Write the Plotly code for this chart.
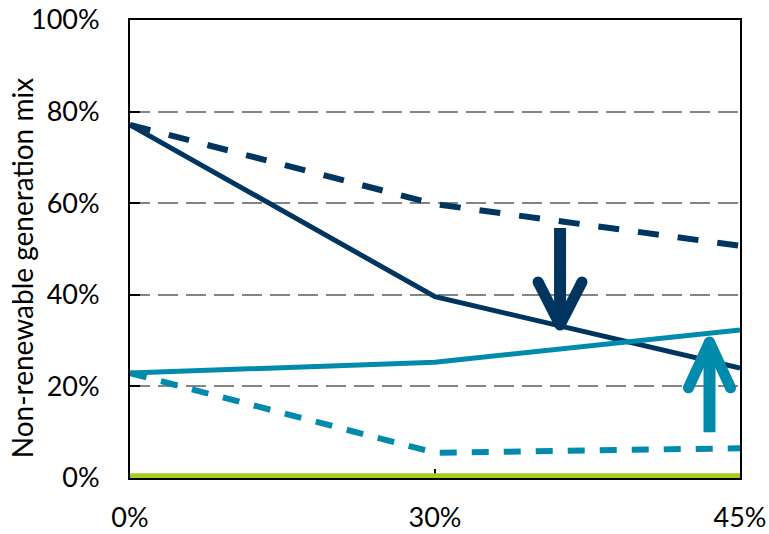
import plotly.graph_objects as go

categories = ["0%", "30%", "45%"]
navy_solid = [77.1, 39.6, 24.0]
navy_dashed = [77.1, 59.8, 50.7]
teal_solid = [22.9, 25.3, 32.3]
teal_dashed = [22.9, 5.5, 6.5]
green_base = [0.4, 0.4, 0.4]
y_ticks = [0, 20, 40, 60, 80, 100]
y_tick_labels = ["0%", "20%", "40%", "60%", "80%", "100%"]
y_title = "Non-renewable generation mix"

NAVY = "#00355F"
TEAL = "#008BAD"
GREEN = "#A4CD1D"
FONT = "Lato"

fig = go.Figure()
fig.add_trace(go.Scatter(x=categories, y=navy_dashed, mode="lines",
                         line=dict(color=NAVY, width=6, dash="21px,19px")))
fig.add_trace(go.Scatter(x=categories, y=teal_dashed, mode="lines",
                         line=dict(color=TEAL, width=6, dash="17px,15px")))
fig.add_trace(go.Scatter(x=categories, y=navy_solid, mode="lines",
                         line=dict(color=NAVY, width=5)))
fig.add_trace(go.Scatter(x=categories, y=teal_solid, mode="lines",
                         line=dict(color=TEAL, width=5)))
fig.add_trace(go.Scatter(x=categories, y=green_base, mode="lines",
                         line=dict(color=GREEN, width=6)))

# annotation arrows (category-index x, percent y)
arrows = [
    dict(x=1.41, y_from=54.6, y_to=33.4, dx=0.072, arm_y=42.8, color=NAVY),
    dict(x=1.90, y_from=10.0, y_to=29.7, dx=0.069, arm_y=19.7, color=TEAL),
]
W = 11
for a in arrows:
    fig.add_shape(type="line", xref="x", yref="y", x0=a["x"], x1=a["x"],
                  y0=a["y_from"], y1=a["y_to"], line=dict(color=a["color"], width=12))
    for s in (-1, 1):
        fig.add_shape(type="line", xref="x", yref="y", x0=a["x"] + s * a["dx"], x1=a["x"],
                      y0=a["arm_y"], y1=a["y_to"], line=dict(color=a["color"], width=W))
        fig.add_shape(type="circle", xref="x", yref="y", xsizemode="pixel", ysizemode="pixel",
                      xanchor=a["x"] + s * a["dx"], yanchor=a["arm_y"],
                      x0=-W / 2, x1=W / 2, y0=-W / 2, y1=W / 2,
                      fillcolor=a["color"], line=dict(width=0))
    fig.add_shape(type="circle", xref="x", yref="y", xsizemode="pixel", ysizemode="pixel",
                  xanchor=a["x"], yanchor=a["y_to"],
                  x0=-W / 2, x1=W / 2, y0=-W / 2, y1=W / 2,
                  fillcolor=a["color"], line=dict(width=0))

fig.add_annotation(text=y_title, xref="paper", yref="paper", x=-0.177, y=0.458,
                   textangle=-90, showarrow=False, xanchor="center", yanchor="middle",
                   font=dict(size=28, family=FONT, color="black"))

fig.update_layout(
    width=769, height=534,
    margin=dict(l=130, r=29, t=20, b=56),
    paper_bgcolor="white", plot_bgcolor="white",
    showlegend=False,
    font=dict(family=FONT, color="black"),
)
fig.update_xaxes(
    type="category", range=[0, 2], automargin=False,
    showline=True, linecolor="black", linewidth=2, mirror=True,
    ticks="inside", ticklen=9, tickwidth=2, tickcolor="black",
    showgrid=False, tickfont=dict(size=27, family=FONT), ticklabelstandoff=15,
    layer="below traces",
)
fig.update_yaxes(
    range=[0, 100], tickvals=y_ticks, ticktext=y_tick_labels, automargin=False,
    showline=True, linecolor="black", linewidth=2, mirror=True,
    ticks="inside", ticklen=10, tickwidth=2, tickcolor="black",
    showgrid=True, gridcolor="#858585", gridwidth=2, griddash="20px,8px",
    zeroline=False,
    tickfont=dict(size=27, family=FONT), ticklabelstandoff=23,
    layer="below traces",
)
fig.write_html("out.html")
